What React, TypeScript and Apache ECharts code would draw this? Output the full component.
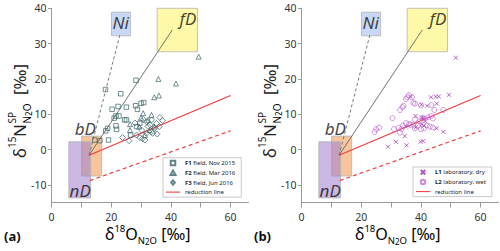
import React, { useEffect, useRef } from 'react';
import * as echarts from 'echarts';

// ---- axis ticks ----
const X_TICKS = [0, 10, 20, 30, 40, 50, 60];
const X_LABELS = [0, 20, 40, 60];
const Y_TICKS = [-10, 0, 10, 20, 30, 40];

// ---- source boxes [x1, x2, y1, y2] ----
const BOX_RANGES = [
  [10.1, 16.8, -7.5, 3.8],
  [5.8, 13.1, -13.7, 2.2],
  [20.1, 26.5, 32.2, 38.9],
  [35.4, 48.9, 27.7, 40.0],
];
const BOX_LABEL_POS = [
  [11.3, 5.9, 'bD'],
  [9.6, -11.6, 'nD'],
  [23.2, 36.0, 'Ni'],
  [45.7, 37.0, 'fD'],
];

// ---- mixing / reduction lines ----
const LINE_FD = [[12.6, -1.6], [40.5, 33.9]];
const LINE_NI = [[12.6, -1.6], [23.1, 33.1]];
const RED_LINE = [[12.6, -1.6], [60, 15.3]];
const RED_DASH = [[12.8, -8.8], [60, 5.3]];

// ---- panel (a) data ----
const F1 = [
  [18.1, 17.0], [28.3, 19.6], [23.2, 15.8], [20.3, 11.4], [25.1, 12.0], [28.2, 12.4],
  [30.0, 13.1], [30.9, 13.3], [28.8, 11.4], [22.3, 12.2], [21.6, 9.5], [21.0, 8.9],
  [22.6, 9.5], [24.5, 8.4], [25.1, 8.4], [21.6, 6.7], [21.8, 5.7], [18.8, 6.0],
  [18.2, 5.3], [19.1, 2.7], [16.2, 2.5], [14.5, 2.7], [29.6, 7.4], [28.5, 6.5], [26.5, 4.1],
];
const F2 = [
  [49.3, 26.3], [35.8, 20.0], [41.7, 18.7], [34.4, 14.8], [36.0, 15.3], [26.3, 7.2],
  [26.3, 5.5], [30.7, 10.3], [33.5, 9.8], [32.4, 8.4], [34.3, 6.5], [29.4, 6.5],
  [31.3, 4.1], [30.0, 9.0], [32.8, 5.5],
];
const F3 = [
  [23.8, 3.4], [26.0, 2.5], [28.5, 4.1], [29.6, 3.4], [30.5, 3.1], [31.8, 4.6],
  [33.5, 5.0], [35.4, 4.4], [36.3, 9.1], [37.2, 8.2], [35.2, 7.4], [32.4, 6.5],
  [30.2, 5.5], [33.9, 4.6], [31.3, 2.7], [33.5, 8.4], [31.8, 7.9], [34.6, 6.0],
  [33.0, 7.0], [36.1, 6.5], [30.8, 8.5], [28.0, 7.5],
];

// ---- panel (b) data ----
const L1 = [
  [51.7, 26.0], [49.4, 15.5], [46.0, 15.0], [45.0, 15.0], [43.4, 14.8], [36.6, 15.0],
  [40.2, 12.7], [42.1, 12.4], [45.3, 13.0], [38.2, 9.5], [40.8, 8.9], [41.5, 8.0],
  [35.0, 6.5], [38.3, 6.3], [40.2, 7.2], [41.0, 6.7], [45.3, 6.0], [47.5, 5.0],
  [29.0, 0.8], [31.6, 2.2], [34.6, 3.8], [35.2, 1.2], [39.9, 2.2], [40.8, 2.4], [40.3, 9.0],
];
const L2 = [
  [24.5, 5.0], [25.0, 5.8], [26.0, 6.2], [30.5, 8.9], [31.0, 5.8], [32.5, 6.2],
  [33.0, 4.8], [33.5, 5.8], [34.0, 6.8], [35.0, 7.5], [36.0, 7.2], [36.5, 7.0],
  [37.5, 7.0], [38.0, 6.0], [39.0, 6.8], [40.0, 5.8], [41.0, 6.0], [42.0, 6.8],
  [43.0, 6.5], [44.0, 6.2], [41.0, 8.8], [42.5, 9.2], [43.5, 9.5], [44.0, 8.8],
  [40.5, 9.0], [39.5, 8.0], [38.0, 8.5], [33.0, 11.2], [33.8, 12.0], [34.2, 12.4],
  [35.0, 14.3], [35.5, 14.8], [36.0, 15.4], [37.0, 14.8], [37.5, 13.2], [38.0, 13.0],
  [44.5, 11.2], [47.5, 11.2], [43.5, 12.6], [40.0, 12.5],
];

const RED_NAMES = ['reduction line', 'reduction line (b)'];

const FONT = 'Noto Sans';
const BOX_FILLS = ['#f7c59c', 'rgba(160,125,205,0.55)', '#c8d8f6', '#fdf9a8'];
const CROSS = 'path://M0,0L10,10M10,0L0,10';
const F_COLOR = '#3b6569';
const L1_COLOR = '#9a2db0';
const L2_COLOR = '#c06ad2';
const RED = '#f23a3a';

// legend icons (keep aspect inside the icon box)
const ICON_RECT = 'path://M0,0L10,0L10,10L0,10Z';
const ICON_TRI = 'path://M5,0L10,9L0,9Z';
const ICON_DIA = 'path://M5,0L10,6L5,12L0,6Z';
const ICON_CIRC = 'path://M5,0C7.8,0,10,2.2,10,5C10,7.8,7.8,10,5,10C2.2,10,0,7.8,0,5C0,2.2,2.2,0,5,0Z';
const ICON_LINE = 'path://M0,0L40,0L40,3L0,3Z';

function panelSeries(gi: number) {
  const ax = { xAxisIndex: gi, yAxisIndex: gi };
  return [
    {
      type: 'custom', ...ax, z: 1, silent: true,
      data: BOX_RANGES,
      encode: { x: [0, 1], y: [2, 3] },
      renderItem: (params: any, api: any) => {
        const p1 = api.coord([api.value(0), api.value(3)]);
        const p2 = api.coord([api.value(1), api.value(2)]);
        return {
          type: 'rect',
          shape: { x: p1[0], y: p1[1], width: p2[0] - p1[0], height: p2[1] - p1[1] },
          style: { fill: BOX_FILLS[params.dataIndex], stroke: '#b4b4b4', lineWidth: 0.8 },
        };
      },
    },
    {
      type: 'scatter', ...ax, z: 2, silent: true,
      data: BOX_LABEL_POS,
      symbolSize: 1,
      itemStyle: { color: 'transparent' },
      label: {
        show: true, position: 'inside', formatter: (p: any) => p.data[2],
        fontSize: 17, fontStyle: 'italic', color: '#111', fontFamily: FONT,
      },
    },
    {
      type: 'line', ...ax, z: 3, data: LINE_NI, symbol: 'none',
      lineStyle: { color: '#777', width: 1, type: [3, 2.5] },
    },
    {
      type: 'line', ...ax, z: 3, data: LINE_FD, symbol: 'none',
      lineStyle: { color: '#666', width: 0.9 },
    },
    {
      type: 'line', ...ax, z: 3, name: RED_NAMES[gi], data: RED_LINE, symbol: 'none', color: RED,
      lineStyle: { color: RED, width: 1.2 }, itemStyle: { color: RED },
    },
    {
      type: 'line', ...ax, z: 3, data: RED_DASH, symbol: 'none',
      lineStyle: { color: RED, width: 1.2, type: [4, 3] },
    },
  ];
}

function scatter(gi: number, name: string, data: number[][], symbol: string, size: number, color: string) {
  return {
    type: 'scatter', xAxisIndex: gi, yAxisIndex: gi, z: 4, name, data, symbol, symbolSize: size,
    itemStyle: { color: 'transparent', borderColor: color, borderWidth: 0.9 },
  };
}

function xAxis(gi: number) {
  return {
    type: 'value', gridIndex: gi, min: 0, max: 66,
    axisLine: { show: true, onZero: false, lineStyle: { color: '#9a9a9a', width: 1 } },
    axisTick: { show: true, customValues: X_TICKS, length: 5, lineStyle: { color: '#9a9a9a' } },
    axisLabel: { customValues: X_LABELS, margin: 9, fontSize: 10.5, color: '#333', fontFamily: FONT },
    splitLine: { show: false },
  };
}
function yAxis(gi: number) {
  return {
    type: 'value', gridIndex: gi, min: -15, max: 40,
    axisLine: { show: true, onZero: false, lineStyle: { color: '#9a9a9a', width: 1 } },
    axisTick: { show: true, customValues: Y_TICKS, length: 3.5, lineStyle: { color: '#9a9a9a' } },
    axisLabel: { customValues: Y_TICKS, margin: 5, fontSize: 10.5, color: '#333', fontFamily: FONT },
    splitLine: { show: false },
  };
}

function legend(gi: number, items: any[], top: number) {
  return {
    orient: 'vertical', left: 163 + gi * 250, top,
    data: items,
    itemWidth: 14, itemHeight: 4.5, itemGap: 3.3,
    padding: [2, 6, 2, 3],
    borderColor: '#bdbdbd', borderWidth: 0.8, backgroundColor: '#fff',
    selectedMode: false,
    inactiveColor: RED,
    inactiveBorderColor: RED,
    textStyle: {
      fontSize: 6, lineHeight: 6, color: '#222', fontFamily: FONT,
      rich: { b: { fontSize: 6, lineHeight: 6, fontWeight: 'bold', color: '#222', fontFamily: FONT } },
    },
    formatter: (n: string) => {
      if (n.startsWith('reduction')) return 'reduction line';
      const i = n.indexOf(' ');
      return `{b|${n.slice(0, i)}}${n.slice(i)}`;
    },
  };
}

const richTitle = {
  m: { fontSize: 16, lineHeight: 22, fontFamily: FONT, color: '#222' },
  sup: { fontSize: 9.5, lineHeight: 10, verticalAlign: 'top', fontFamily: FONT, color: '#222' },
  sub: { fontSize: 9.5, lineHeight: 10, verticalAlign: 'bottom', fontFamily: FONT, color: '#222' },
  sub2: { fontSize: 8, lineHeight: 8, verticalAlign: 'bottom', fontFamily: FONT, color: '#222' },
};

function titles(gi: number) {
  const dx = gi * 250;
  const tc = '#222';
  const t = (text: string, x: number, y: number, fs: number) => ({
    type: 'text', x, y, style: { text, fontSize: fs, fontFamily: FONT, fill: tc, verticalAlign: 'middle' },
  });
  return [
    {
      type: 'text', x: 105 + dx, y: 234,
      style: {
        text: '{m|δ}{sup|18}{m|O}{sub|N}{sub2|2}{sub|O}{m| [‰]}',
        rich: richTitle, verticalAlign: 'middle', align: 'left',
      },
    },
    {
      type: 'group', x: 19 + dx, y: 158, rotation: Math.PI / 2,
      children: [
        t('δ', 0, 0, 17),
        t('15', 10, -7, 10),
        t('N', 21, 0, 17),
        t('SP', 34.5, -7.5, 10),
        {
          type: 'text', x: 34.5, y: 7.5,
          style: {
            text: '{s|N}{t|2}{s|O}', verticalAlign: 'middle',
            rich: {
              s: { fontSize: 10, lineHeight: 12, fontFamily: FONT, color: tc },
              t: { fontSize: 8, lineHeight: 8, verticalAlign: 'bottom', fontFamily: FONT, color: tc },
            },
          },
        },
        t('[‰]', 63, 0, 17),
      ],
    },
    {
      type: 'text', x: 4 + dx, y: 236,
      style: { text: gi === 0 ? '(a)' : '(b)', fontSize: 13, fontWeight: 'bold', fontFamily: FONT, fill: '#111', verticalAlign: 'middle' },
    },
  ];
}

export default function App() {
  const ref = useRef<HTMLDivElement>(null);
  useEffect(() => {
    if (!ref.current) return;
    const chart = echarts.init(ref.current, null, { renderer: 'svg' });
    const grid = (gi: number) => ({ left: 51.5 + gi * 250, top: 8.3, width: 197, height: 194.2 });
    const redItem = (gi: number) => ({
      name: RED_NAMES[gi], icon: ICON_LINE,
      itemStyle: { color: RED, borderColor: RED, borderWidth: 0, opacity: 1 },
      lineStyle: { color: RED, width: 1.2, opacity: 1 },
    });
    chart.setOption({
      animation: false,
      backgroundColor: '#fff',
      grid: [grid(0), grid(1)],
      xAxis: [xAxis(0), xAxis(1)],
      yAxis: [yAxis(0), yAxis(1)],
      legend: [
        legend(0, [
          { name: 'F1 field, Nov 2015', icon: ICON_RECT },
          { name: 'F2 field, Mar 2016', icon: ICON_TRI },
          { name: 'F3 field, Jun 2016', icon: ICON_DIA },
          redItem(0),
        ], 157.7),
        legend(1, [
          { name: 'L1 laboratory, dry', icon: CROSS },
          { name: 'L2 laboratory, wet', icon: ICON_CIRC },
          redItem(1),
        ], 167),
      ],
      series: [
        ...panelSeries(0),
        scatter(0, 'F1 field, Nov 2015', F1, 'rect', 4.5, F_COLOR),
        scatter(0, 'F2 field, Mar 2016', F2, 'triangle', 5, F_COLOR),
        scatter(0, 'F3 field, Jun 2016', F3, 'diamond', 6, F_COLOR),
        ...panelSeries(1),
        scatter(1, 'L1 laboratory, dry', L1, CROSS, 4, L1_COLOR),
        scatter(1, 'L2 laboratory, wet', L2, 'circle', 5, L2_COLOR),
      ],
      graphic: [...titles(0), ...titles(1)],
    });
    return () => chart.dispose();
  }, []);
  return (
    <div
      ref={ref}
      style={{ position: 'absolute', left: 0, top: 0, width: 500, height: 251 }}
    />
  );
}
